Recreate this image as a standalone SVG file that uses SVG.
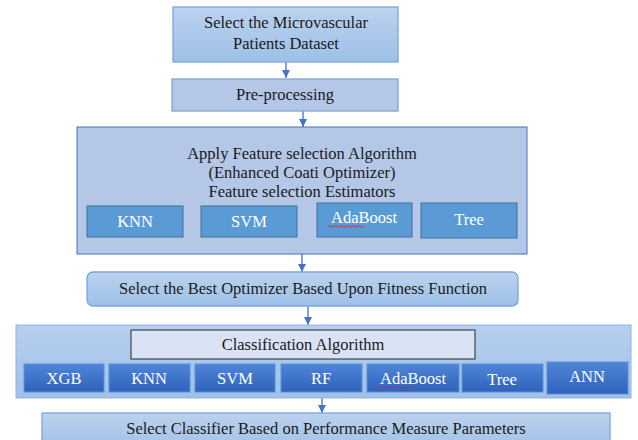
<svg xmlns="http://www.w3.org/2000/svg" width="638" height="440" viewBox="0 0 638 440">
<defs>
<linearGradient id="gLight" x1="0" y1="0" x2="0" y2="1">
<stop offset="0" stop-color="#bcd2ee"/>
<stop offset="1" stop-color="#9dc0e8"/>
</linearGradient>
<linearGradient id="gDark" x1="0" y1="0" x2="0" y2="1">
<stop offset="0" stop-color="#4f86d6"/>
<stop offset="1" stop-color="#2f62bd"/>
</linearGradient>
<linearGradient id="gOuter" x1="0" y1="0" x2="0" y2="1">
<stop offset="0" stop-color="#b7cfee"/>
<stop offset="1" stop-color="#9fc1e9"/>
</linearGradient>
<marker id="ah" markerWidth="9" markerHeight="9" refX="8" refY="4.5" orient="auto" markerUnits="userSpaceOnUse">
<path d="M0,0.5 L8,4.5 L0,8.5 Z" fill="#4472c4"/>
</marker>
</defs>
<style>
text{font-family:"Liberation Serif","Times New Roman",serif;font-size:16.5px;fill:#1a1a1a;text-anchor:middle}
.w{fill:#ffffff}
.lb{stroke:#7aa6dc;stroke-width:1.3}
.est{fill:#5b9bd5;stroke:#41719c;stroke-width:1}
.cls{fill:url(#gDark);stroke:#5b8fd8;stroke-width:1}
.conn{stroke:#4472c4;stroke-width:1.3;fill:none;marker-end:url(#ah)}
</style>
<g id="connectors">
<line class="conn" x1="286" y1="62" x2="286" y2="78"/>
<line class="conn" x1="303" y1="111" x2="303" y2="127"/>
<line class="conn" x1="302" y1="254" x2="302" y2="272"/>
<line class="conn" x1="308" y1="306" x2="308" y2="325"/>
<line class="conn" x1="322" y1="398" x2="322" y2="413"/>
</g>
<g id="dataset">
<rect x="173" y="7" width="225" height="55" fill="url(#gLight)" class="lb"/>
<text x="286" y="28">Select the Microvascular</text>
<text x="286" y="49">Patients Dataset</text>
</g>
<g id="preprocessing">
<rect x="172" y="79" width="226" height="32" fill="#b4c7e7" class="lb"/>
<text x="285" y="100">Pre-processing</text>
</g>
<g id="feature-selection">
<rect x="77" y="127" width="450" height="127" fill="#b4c7e7" stroke="#4472c4" stroke-width="1"/>
<text x="302" y="159">Apply Feature selection Algorithm</text>
<text x="302" y="178">(Enhanced Coati Optimizer)</text>
<text x="302" y="197">Feature selection Estimators</text>
</g>
<g id="fs-knn">
<rect class="est" x="87" y="206" width="96" height="31"/>
<text class="w" x="135" y="227">KNN</text>
</g>
<g id="fs-svm">
<rect class="est" x="201" y="206" width="96" height="31"/>
<text class="w" x="249" y="227">SVM</text>
</g>
<g id="fs-adaboost">
<rect class="est" x="317" y="203" width="95" height="34"/>
<text class="w" x="364" y="223">AdaBoost</text>
<path d="M328,226.5 q1.5,-1.5 3,0 t3,0 t3,0 t3,0 t3,0 t3,0 t3,0 t3,0 t3,0 t3,0 t3,0 t3,0" stroke="#e02020" stroke-width="0.8" fill="none"/>
</g>
<g id="fs-tree">
<rect class="est" x="421" y="203" width="96" height="35"/>
<text class="w" x="469" y="225">Tree</text>
</g>
<g id="best-optimizer">
<rect x="87" y="272" width="431" height="34" rx="6" fill="url(#gLight)" class="lb"/>
<text x="303" y="294">Select the Best Optimizer Based Upon Fitness Function</text>
</g>
<g id="classification">
<rect x="16" y="325" width="615" height="73" fill="url(#gOuter)" stroke="#8fb4e3" stroke-width="1"/>
<rect x="131" y="330" width="344" height="29" fill="#dae3f3" stroke="#262626" stroke-width="1"/>
<text x="303" y="350">Classification Algorithm</text>
</g>
<g id="cl-xgb">
<rect class="cls" x="24" y="364" width="80" height="28"/>
<text class="w" x="64" y="384">XGB</text>
</g>
<g id="cl-knn">
<rect class="cls" x="109" y="364" width="81" height="28"/>
<text class="w" x="149" y="384">KNN</text>
</g>
<g id="cl-svm">
<rect class="cls" x="195" y="364" width="80" height="28"/>
<text class="w" x="235" y="384">SVM</text>
</g>
<g id="cl-rf">
<rect class="cls" x="281" y="364" width="81" height="28"/>
<text class="w" x="321" y="384">RF</text>
</g>
<g id="cl-adaboost">
<rect class="cls" x="367" y="364" width="92" height="28"/>
<text class="w" x="413" y="384">AdaBoost</text>
<path d="M378,387.5 q1.5,-1.5 3,0 t3,0 t3,0 t3,0 t3,0 t3,0 t3,0 t3,0 t3,0 t3,0 t3,0 t3,0" stroke="#e02020" stroke-width="0.8" fill="none"/>
</g>
<g id="cl-tree">
<rect class="cls" x="462" y="364" width="81" height="28"/>
<text class="w" x="502" y="385">Tree</text>
</g>
<g id="cl-ann">
<rect class="cls" x="547" y="362" width="81" height="32"/>
<text class="w" x="587" y="382">ANN</text>
</g>
<g id="select-classifier">
<rect x="42" y="413" width="568" height="40" fill="url(#gLight)" class="lb"/>
<text x="326" y="434">Select Classifier Based on Performance Measure Parameters</text>
</g>
</svg>
